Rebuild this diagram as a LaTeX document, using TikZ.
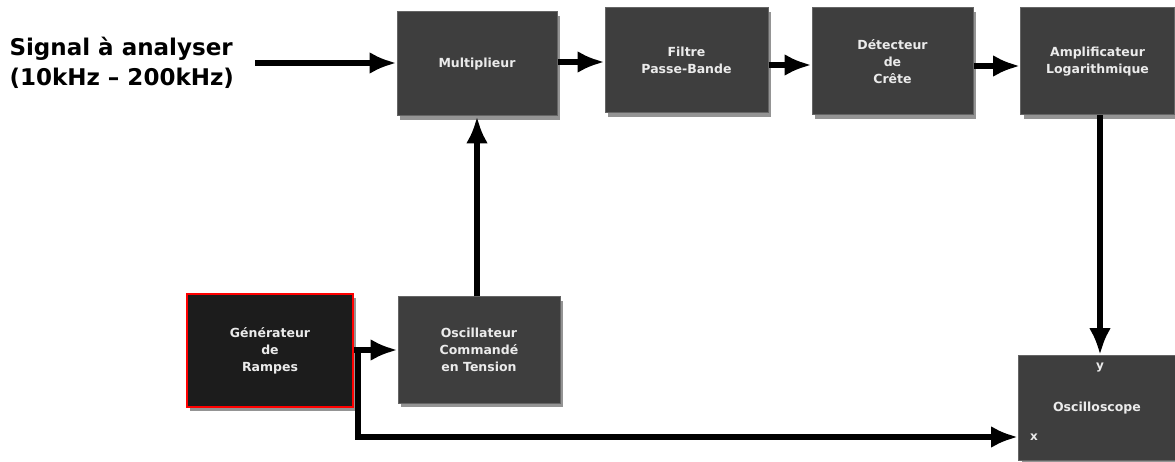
\documentclass[tikz,border=0pt]{standalone}
\usepackage{fontspec}
\setmainfont{DejaVu Sans}
\usetikzlibrary{arrows.meta,shadows}
\definecolor{boxgray}{HTML}{3E3E3E}
\definecolor{boxdark}{HTML}{1C1C1C}
\tikzset{
  blockbox/.style={draw=boxgray!80!white, line width=1pt, fill=boxgray, text=white!92!black,
    font=\bfseries\fontsize{12.5}{17}\selectfont, align=center, inner sep=0pt,
    drop shadow={shadow xshift=3pt, shadow yshift=-4pt, fill=black!60, opacity=0.7}},
  darkbox/.style={blockbox, fill=boxdark, draw=red, line width=2.5pt},
  flow/.style={line width=6.5pt, -{Latex[length=27pt,width=22pt]}},
  smalllbl/.style={text=white!92!black, font=\bfseries\fontsize{12}{14}\selectfont, inner sep=0pt}
}
\begin{document}
\begin{tikzpicture}[x=1pt,y=-1pt]
\useasboundingbox (0,0) rectangle (1175,462);
% boxes
\node[blockbox, minimum width=160pt, minimum height=104pt] (mul) at (477,64) {Multiplieur};
\node[blockbox, minimum width=163pt, minimum height=105pt] (fil) at (686.5,60.5) {Filtre\\Passe-Bande};
\node[blockbox, minimum width=161pt, minimum height=107pt] (det) at (892.5,61.5) {Détecteur\\de\\Crête};
\node[blockbox, minimum width=154pt, minimum height=107pt, anchor=west] (amp) at (1020,61.5) {Amplificateur\\Logarithmique};
\node[darkbox, minimum width=166pt, minimum height=113pt] (gen) at (270,350.5) {Générateur\\de\\Rampes};
\node[blockbox, minimum width=162pt, minimum height=106pt] (osc) at (479,350) {Oscillateur\\Commandé\\en Tension};
\node[blockbox, minimum width=157pt, minimum height=105pt, anchor=north west] (sco) at (1018,355) {Oscilloscope};
\node[smalllbl] (ylbl) at (1100,368) {y};
\node[smalllbl] (xlbl) at (1034,437) {x};
% label
\node[anchor=west, align=left, font=\bfseries\fontsize{23}{30}\selectfont] (sig) at (6,63) {Signal à analyser\\(10kHz – 200kHz)};
\coordinate (sigstart) at (255,63);
% arrows
\draw[flow] (sigstart) -- (mul.west |- sigstart);
\draw[flow] (mul.east |- 0,62) -- (fil.west |- 0,62);
\draw[flow] (fil.east |- 0,65) -- (det.west |- 0,65);
\draw[flow] (det.east |- 0,66) -- (amp.west |- 0,66);
\draw[flow] (amp.south -| 1100,0) -- (sco.north -| 1100,0);
\draw[flow] (osc.north -| 477,0) -- (mul.south -| 477,0);
\coordinate (branch) at (358,350);
\draw[flow] (gen.east |- branch) -- (osc.west |- branch);
\coordinate (corner) at (358,437);
\draw[flow] (branch) -- (corner) -- (sco.west |- corner);
\end{tikzpicture}
\end{document}
